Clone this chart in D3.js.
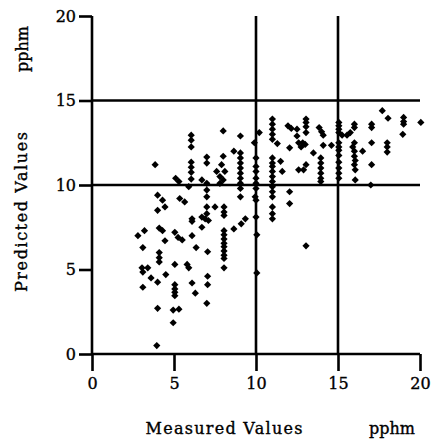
<!DOCTYPE html>
<html>
<head>
<meta charset="utf-8">
<script src="https://cdn.jsdelivr.net/npm/d3@7"></script>
<style>
    body { margin: 0; background: #fff; }
    text { font-family: "DejaVu Serif", serif; fill: #000; stroke: #000; stroke-width: 0.35px; }
</style>
</head>
<body>
<div id="chart"></div>
<script>
// measured vs predicted, pphm
let measured = [
    2.8, 3.2, 4.1, 4.3, 4.45, 5.05, 5.25, 5.5, 6.1, 6.35, 3.1, 4.1, 4.1, 4.1, 3.05, 3.1, 3.4, 5.05, 5.8, 5.9,
    4.5, 3.6, 4.0, 3.1, 5.05, 5.05, 5.05, 5.05, 6.1, 6.3, 4.0, 4.95, 5.3, 4.95, 3.95, 6.1, 6.1, 6.7, 6.7,
    3.85, 6.05, 6.05, 6.05, 6.05, 6.05, 6.05, 6.05, 6.7, 5.1, 5.3, 5.9, 4.0, 4.3, 5.35, 5.65, 4.0, 4.45,
    7.0, 7.0, 8.0, 9.05, 8.65,
    8.0, 7.9, 7.6, 8.1, 7.8, 8.0, 7.8,
    9.05, 9.05, 9.05, 9.05, 9.05, 9.05, 9.05, 9.05, 9.05,
    7.0, 7.0, 7.0, 7.0, 7.0, 7.5, 8.05, 8.05, 8.05,
    8.05, 8.05, 8.05, 8.05, 8.05, 8.05, 8.05, 8.05, 8.05,
    7.05, 7.05, 7.05, 7.0, 6.9, 7.1, 8.65, 9.1, 9.35,
    10.2, 9.9, 10.0, 10.0, 10.0, 10.0, 10.0, 10.0, 9.95, 10.0, 10.0, 10.05, 10.05,
    11.0, 11.0, 11.0, 11.0, 11.0, 11.3, 11.0, 11.0, 11.0, 11.0, 11.0, 11.0, 11.0, 11.0, 11.0, 11.0, 11.0, 11.0,
    11.5, 11.6,
    11.95, 12.15, 12.5, 12.5, 12.6, 12.85, 12.75, 13.0,
    13.05, 13.05, 13.05, 13.05, 12.05,
    13.85, 14.0, 14.1, 14.1, 14.6, 13.5,
    13.95, 13.95, 13.95, 13.95, 13.95, 13.95,
    12.6, 12.9, 13.05, 12.05, 12.05, 13.05,
    15.05, 15.05, 15.05, 15.05, 15.25, 15.55, 15.75, 15.05, 15.05, 15.05, 15.05, 15.05, 15.05, 15.05, 15.05,
    16.0, 16.0, 16.0, 15.9, 16.0, 16.0, 16.05, 16.0, 16.5, 16.05, 16.05,
    17.05, 17.05, 17.05, 17.05, 17.0,
    17.7, 18.05, 18.0, 18.0, 18.0,
    19.0, 19.0, 19.0, 18.95, 20.05
];
let predicted = [
    7.0, 7.3, 7.45, 7.3, 6.7, 7.2, 6.9, 6.75, 7.0, 6.3, 6.3, 6.0, 5.7, 5.45, 5.1, 4.85, 5.1, 5.3, 5.3, 5.1,
    4.7, 4.5, 4.25, 3.95, 4.1, 3.85, 3.65, 3.45, 4.2, 3.6, 2.7, 2.6, 2.65, 1.85, 0.5, 8.0, 7.85, 8.1, 7.5,
    11.2, 12.95, 12.65, 12.25, 11.35, 11.05, 10.75, 10.35, 10.3, 10.4, 10.2, 9.9, 9.4, 9.1, 9.2, 9.0, 8.5, 8.7,
    11.65, 11.3, 13.2, 12.9, 12.0,
    11.7, 11.2, 10.8, 10.8, 10.5, 10.3, 10.1,
    11.9, 11.6, 11.3, 11.0, 10.7, 10.4, 10.1, 9.8, 9.3,
    10.1, 9.7, 9.3, 8.7, 8.3, 8.7, 8.7, 8.4, 8.2,
    7.3, 7.05, 6.8, 6.55, 6.35, 6.1, 5.85, 5.65, 5.1,
    6.05, 4.6, 4.1, 3.0, 8.0, 7.9, 7.4, 7.7, 8.0,
    13.1, 12.5, 11.6, 11.1, 10.8, 10.4, 10.1, 9.8, 9.3, 9.1, 8.1, 7.05, 4.8,
    13.9, 13.6, 13.3, 13.0, 12.7, 12.45, 11.6, 11.3, 11.1, 10.8, 10.5, 10.2, 9.9, 9.6, 9.3, 8.7, 8.3, 8.0,
    11.4, 10.8,
    13.5, 13.35, 13.3, 12.9, 12.5, 12.5, 12.25, 12.4,
    13.9, 13.7, 13.45, 13.1, 12.2,
    13.4, 13.15, 12.95, 12.35, 12.35, 11.9,
    11.6, 11.3, 11.0, 10.7, 10.4, 10.2,
    10.9, 10.9, 11.2, 9.6, 8.9, 6.4,
    13.7, 13.5, 13.3, 13.1, 12.95, 12.95, 13.1, 12.5, 12.25, 12.05, 11.75, 11.35, 11.0, 10.7, 10.4,
    13.6, 13.4, 12.5, 12.25, 12.0, 11.7, 11.45, 11.2, 12.0, 10.9, 10.3,
    13.6, 13.4, 12.5, 11.2, 10.0,
    14.4, 13.95, 12.5, 12.25, 11.95,
    14.0, 13.75, 13.6, 13.0, 13.7
];
let xTicks = [0, 5, 10, 15, 20];
let yTicks = [0, 5, 10, 15, 20];
let gridValues = [10, 15];

let data = measured.map((m, i) => ({ x: m, y: predicted[i] }));

let svg = d3.select("#chart").append("svg")
    .attr("width", 431)
    .attr("height", 445);

let x = d3.scaleLinear().domain([0, 20]).range([92, 420]);
let y = d3.scaleLinear().domain([0, 20]).range([354, 16]);

let stroke = 2.6;

// reference lines at 10 and 15
svg.append("g").selectAll("line.v")
    .data(gridValues)
    .enter().append("line")
    .attr("x1", d => x(d)).attr("x2", d => x(d))
    .attr("y1", y(20)).attr("y2", y(0))
    .attr("stroke", "#000").attr("stroke-width", stroke);

svg.append("g").selectAll("line.h")
    .data(gridValues)
    .enter().append("line")
    .attr("x1", x(0)).attr("x2", x(20))
    .attr("y1", d => y(d)).attr("y2", d => y(d))
    .attr("stroke", "#000").attr("stroke-width", stroke);

let xAxis = d3.axisBottom(x)
    .tickValues(xTicks)
    .tickSize(17)
    .tickPadding(7)
    .tickFormat(d3.format("d"));

let yAxis = d3.axisLeft(y)
    .tickValues(yTicks)
    .tickSize(13)
    .tickPadding(3)
    .tickFormat(d3.format("d"));

let gX = svg.append("g")
    .attr("transform", "translate(0," + y(0) + ")")
    .call(xAxis);

let gY = svg.append("g")
    .attr("transform", "translate(" + x(0) + ",0)")
    .call(yAxis);

[gX, gY].forEach(g => {
    g.select(".domain").remove();
    g.selectAll("line").attr("stroke", "#000").attr("stroke-width", stroke);
    g.selectAll("text")
        .style("font-family", "DejaVu Serif, serif")
        .style("font-size", "16px")
        .attr("fill", "#000");
});

// axis lines
svg.append("line")
    .attr("x1", x(0)).attr("x2", x(20))
    .attr("y1", y(0)).attr("y2", y(0))
    .attr("stroke", "#000").attr("stroke-width", stroke);
svg.append("line")
    .attr("x1", x(0)).attr("x2", x(0))
    .attr("y1", y(20)).attr("y2", y(0))
    .attr("stroke", "#000").attr("stroke-width", stroke);

//draw the dots
let symbol = d3.symbol().type(d3.symbolSquare).size(26);
svg.append("g")
    .selectAll("path")
    .data(data)
    .enter().append("path")
    .attr("d", symbol)
    .attr("transform", d => "translate(" + x(d.x) + "," + y(d.y) + ") rotate(45)")
    .attr("fill", "#000");

// labels
svg.append("text")
    .attr("x", 224).attr("y", 434)
    .attr("text-anchor", "middle")
    .style("font-size", "16px")
    .attr("textLength", 157)
    .text("Measured Values");

svg.append("text")
    .attr("x", 392).attr("y", 434)
    .attr("text-anchor", "middle")
    .style("font-size", "16px")
    .text("pphm");

svg.append("text")
    .attr("transform", "translate(27,212) rotate(-90)")
    .attr("text-anchor", "middle")
    .style("font-size", "16px")
    .attr("textLength", 160)
    .text("Predicted Values");

svg.append("text")
    .attr("transform", "translate(28,49) rotate(-90)")
    .attr("text-anchor", "middle")
    .style("font-size", "16px")
    .text("pphm");
</script>
</body>
</html>
